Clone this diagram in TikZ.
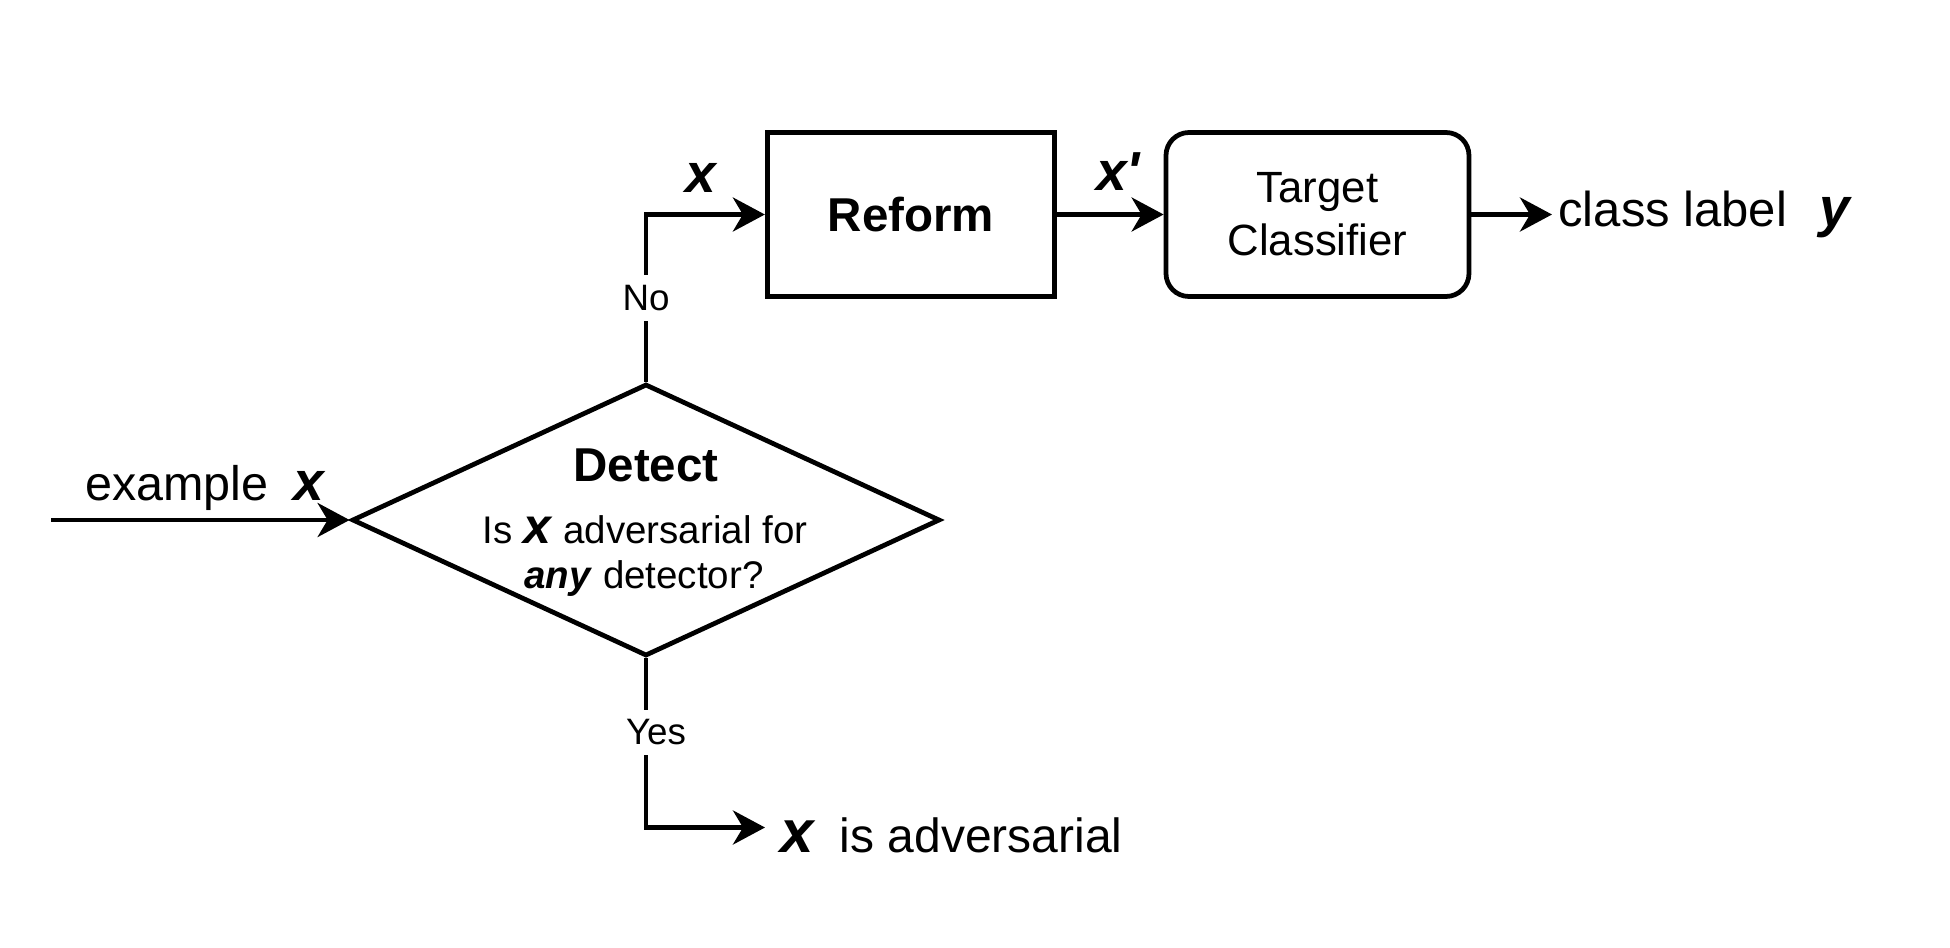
\documentclass[tikz,border=0pt]{standalone}
\usepackage{fontspec}
\setmainfont{Liberation Sans}
\usetikzlibrary{arrows.meta,shapes.geometric}
\newcommand\bx[1]{\textbf{\textit{#1}}}
\begin{document}
\begin{tikzpicture}[x=0.2pt,y=-0.2pt,
  line width=0.95pt,
  arr/.style={-{Stealth[length=6.4pt,width=6.8pt,inset=2pt]}},
  boxnode/.style={draw,rectangle,inner sep=0pt,minimum width=57.5pt,minimum height=32.8pt},
  tboxnode/.style={draw,rectangle,rounded corners=4.6pt,inner sep=0pt,minimum width=60.6pt,minimum height=32.8pt,align=center,
    font=\fontsize{8.75}{10.6}\selectfont},
  lbl/.style={fill=white,inner sep=2pt,font=\fontsize{7.35}{9}\selectfont},
  txt/.style={inner sep=0pt},
  mathx/.style={inner sep=0pt,font=\fontsize{11}{13}\selectfont}
]
\useasboundingbox (0,0) rectangle (1950,948);

% blocks
\node[boxnode] (reform) at (911,214.5) {\fontsize{9.5}{11}\selectfont\bfseries Reform};
\node[tboxnode] (target) at (1317.5,214.5) {Target\\Classifier};
\node[draw,diamond,inner sep=0pt,minimum width=117.6pt,minimum height=54.4pt] (detect) at (646,520) {};

% text inside the diamond
\node[txt,anchor=base] (dtitle) at (646,481) {\fontsize{9.5}{11}\selectfont\bfseries Detect};
\node[txt,anchor=base] (dline1) at (645,543) {\fontsize{7.7}{9}\selectfont Is \fontsize{10}{12}\selectfont\bx{x}\fontsize{7.7}{9}\selectfont{} adversarial for};
\node[txt,anchor=base] (dline2) at (644,588) {\fontsize{7.7}{9}\selectfont\bx{any} detector?};

% free ends and outer texts
\coordinate (src) at (51,520);
\coordinate (advtip) at (765,827.5);
\node[txt,anchor=base west] (exlbl) at (83,500) {\fontsize{9.7}{11}\selectfont example\hspace{5pt}\fontsize{11}{13}\selectfont\bx{x}};
\node[txt,anchor=base west] (adv) at (778,852) {\fontsize{12}{14}\selectfont\bx{x}\hspace{4.8pt}\fontsize{9.6}{11}\selectfont is adversarial};
\node[inner sep=0.8pt,anchor=west] (cl) at (1552,214.5) {\fontsize{9.8}{11}\selectfont class label\hspace{6.5pt}\fontsize{11}{13}\selectfont\bx{y}};
\node[mathx,anchor=base] (xin) at (702,192) {\bx{x}};
\node[mathx,anchor=base] (xout) at (1119,190) {\bx{x\textquotesingle}};

% connectors
\draw[arr] (src) -- (detect.west);
\draw[arr] (detect.north) |- node[pos=0.25,lbl] (nolbl) {No} (reform.west);
\draw[arr] (detect.south) |- node[pos=0.219,lbl,xshift=2pt] (yeslbl) {Yes} (advtip);
\draw[arr] (reform.east) -- (target.west);
\draw[arr] (target.east) -- (cl.west);
\end{tikzpicture}
\end{document}
